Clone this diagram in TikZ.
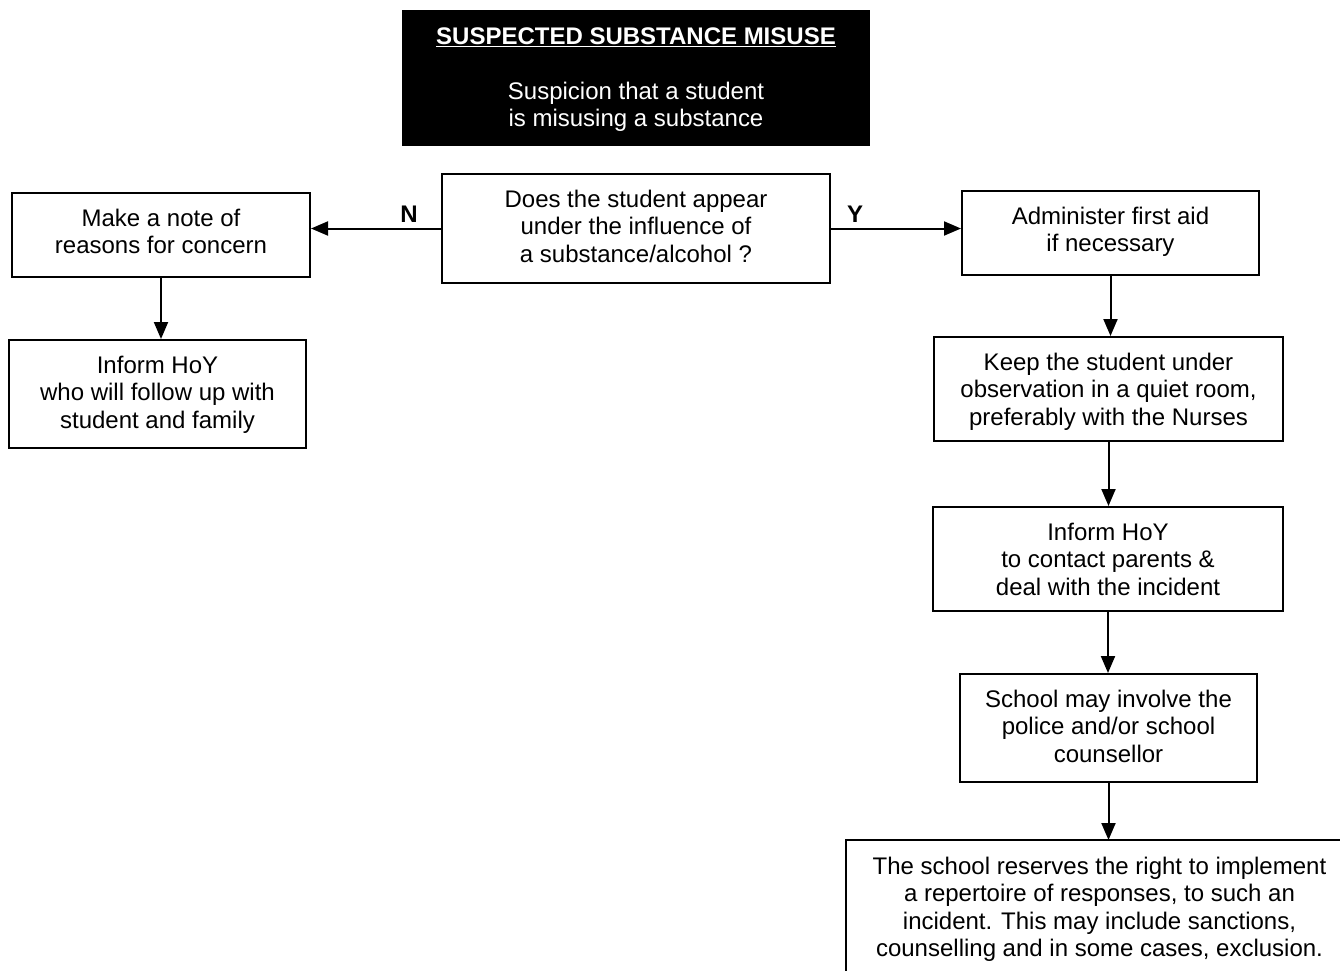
\documentclass[tikz,border=0pt]{standalone}
\usepackage{fontspec}
\setmainfont{Liberation Sans}
\usetikzlibrary{arrows.meta,fit}
\newcommand{\fsz}{\fontsize{18}{20.6}\selectfont}
\begin{document}
\begin{tikzpicture}[x=0.75pt,y=-0.75pt,
  box/.style={draw=black, line width=1.5pt, inner sep=0pt},
  txt/.style={font=\fsz, align=center, anchor=north, inner sep=0pt},
  arr/.style={line width=1.5pt, -{Triangle[length=12.75pt,width=10.5pt]}},
  lab/.style={font=\fsz\bfseries, anchor=base, inner sep=0pt}]
\useasboundingbox (0,0) rectangle (1340,971);
\clip (0,0) rectangle (1340,971);
% boxes
\node[box, fill=black, fit={(403,11) (869,145)}] (top) {};
\node[box, fit={(442,174) (830,283)}] (dec) {};
\node[box, fit={(12,193) (310,277)}] (L1) {};
\node[box, fit={(9,340) (306,448)}] (L2) {};
\node[box, fit={(962,191) (1259,275)}] (R1) {};
\node[box, fit={(934,337) (1283,441)}] (R2) {};
\node[box, fit={(933,507) (1283,611)}] (R3) {};
\node[box, fit={(960,674) (1257,782)}] (R4) {};
\node[box, draw=none, fit={(847,841) (1420,1020)}] (R5) {};
\draw[line width=1.5pt] (R5.south west) -- (R5.north west) -- (R5.north east);
% texts
\node[txt, text=white] (ttop) at (636,24.8) {\strut\underline{\textbf{SUSPECTED SUBSTANCE MISUSE}}\\[20.6pt]Suspicion that a student\\is misusing a substance};
\node[txt] (tdec) at (636,187.8) {\strut Does the student appear\\under the influence of\\a substance/alcohol ?};
\node[txt] (tL1) at (161,206.8) {\strut Make a note of\\reasons for concern};
\node[txt] (tL2) at (157.5,353.8) {\strut Inform HoY\\who will follow up with\\student and family};
\node[txt] (tR1) at (1110.5,204.8) {\strut Administer first aid\\if necessary};
\node[txt] (tR2) at (1108.5,350.8) {\strut Keep the student under\\observation in a quiet room,\\preferably with the Nurses};
\node[txt] (tR3) at (1108,520.8) {\strut Inform HoY\\to contact parents \&\\deal with the incident};
\node[txt] (tR4) at (1108.5,687.8) {\strut School may involve the\\police and/or school\\counsellor};
\node[txt] (tR5) at (1099.5,854.8) {\strut The school reserves the right to implement\\a repertoire of responses, to such an\\incident. This may include sanctions,\\counselling and in some cases, exclusion.};
% labels
\node[lab] (N) at (409,222) {N};
\node[lab] (Y) at (855,222) {Y};
% connectors
\draw[arr] (dec.west) -- (dec.west -| L1.east);
\draw[arr] (dec.east) -- (dec.east -| R1.west);
\draw[arr] (L1.south) -- (L1.south |- L2.north);
\draw[arr] (R1.south) -- (R1.south |- R2.north);
\draw[arr] (R2.south) -- (R2.south |- R3.north);
\draw[arr] (R3.south) -- (R3.south |- R4.north);
\draw[arr] (R4.south) -- (R4.south |- R5.north);
\end{tikzpicture}
\end{document}
